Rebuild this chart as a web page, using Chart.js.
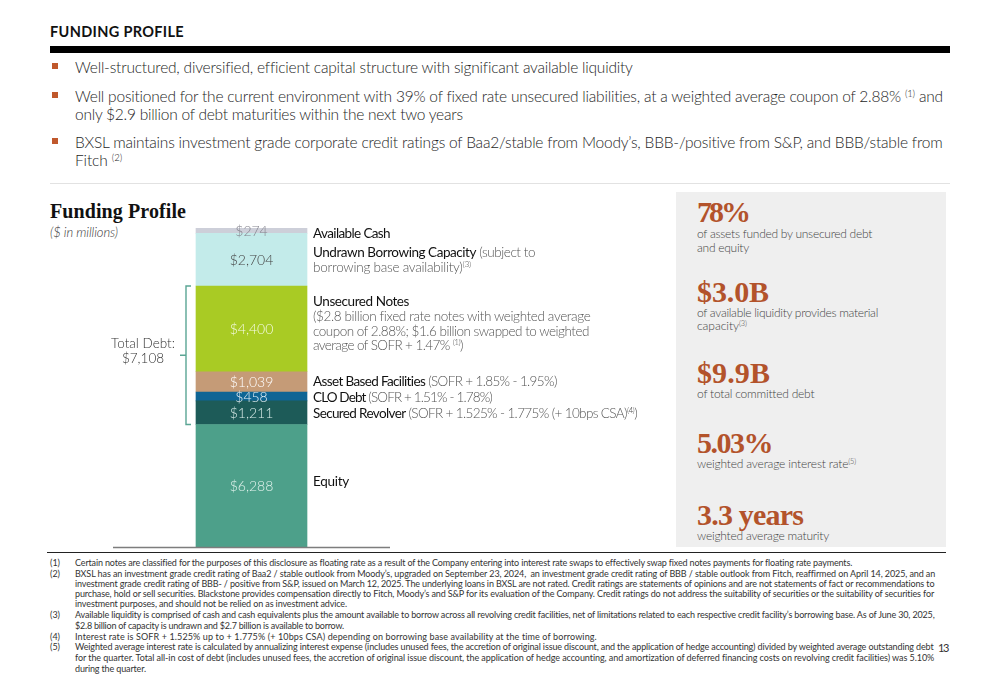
<!DOCTYPE html>
<html><head><meta charset="utf-8">
<script src="https://cdn.jsdelivr.net/npm/chart.js@4.4.1/dist/chart.umd.min.js"></script>
<style>
html,body{margin:0;padding:0;background:#fff}
body{width:1000px;height:685px;position:relative;overflow:hidden;font-family:Lato,"Open Sans",sans-serif;color:#333}
.t{position:absolute;white-space:nowrap;line-height:1}
.hdr{font-weight:700;font-size:14.5px;color:#111}
.bul{font-size:15.5px;color:#1e1e1e;font-weight:300}
.sq{position:absolute;width:6px;height:6px;background:#c0582c}
.ttl{font-family:"Liberation Serif",serif;font-weight:700;font-size:20px;color:#111}
.unit{font-style:italic;font-size:13px;color:#333;font-weight:300}
.side{font-size:13.5px;color:#555;font-weight:300}
.side b{font-weight:400;color:#111}
.big{font-family:"Liberation Serif",serif;font-weight:700;font-size:30px;color:#b3532b}
.sub{font-size:12px;color:#444;font-weight:300}
.fn{font-size:9px;color:#333}
.pg{font-size:11px;color:#333}
sup{font-size:0.62em;vertical-align:0.55em;line-height:0}
.rule{position:absolute}
</style>
</head>
<body>
<div class="t hdr" style="left:50px" data-b="36.7" data-w="184">FUNDING PROFILE</div>
<div class="rule" style="left:50px;top:45.5px;width:900px;height:7px;background:#000"></div>

<div class="sq" style="left:52px;top:63px"></div>
<div class="t bul" style="left:75px" data-b="72.5" data-w="631">Well-structured, diversified, efficient capital structure with significant available liquidity</div>
<div class="sq" style="left:52px;top:92px"></div>
<div class="t bul" style="left:75px" data-b="101.5" data-w="943">Well positioned for the current environment with 39% of fixed rate unsecured liabilities, at a weighted average coupon of 2.88% <sup>(1)</sup> and</div>
<div class="t bul" style="left:75px" data-b="119.5" data-w="463">only $2.9 billion of debt maturities within the next two years</div>
<div class="sq" style="left:52px;top:138px"></div>
<div class="t bul" style="left:75px" data-b="147.5" data-w="943">BXSL maintains investment grade corporate credit ratings of Baa2/stable from Moody’s, BBB-/positive from S&amp;P, and BBB/stable from</div>
<div class="t bul" style="left:75px" data-b="165.5" data-w="122">Fitch <sup>(2)</sup></div>
<div class="rule" style="left:50px;top:182.5px;width:900px;height:1px;background:#e2e2e2"></div>

<div class="t ttl" style="left:50px" data-b="218" data-w="186">Funding Profile</div>
<div class="t unit" style="left:50px" data-b="237" data-w="118">($ in millions)</div>

<div class="rule" style="left:676px;top:192px;width:270px;height:355px;background:#efefef"></div>

<div id="cw" style="position:absolute;left:50px;top:190px;width:610px;height:362px"><canvas id="c" width="610" height="362"></canvas></div>

<div class="t side" style="left:313px" data-b="238" data-w="390"><b>Available Cash</b></div>
<div class="t side" style="left:313px" data-b="257" data-w="535"><b>Undrawn Borrowing Capacity</b> (subject to</div>
<div class="t side" style="left:313px" data-b="271.5" data-w="471">borrowing base availability)<sup>(3)</sup></div>
<div class="t side" style="left:313px" data-b="306" data-w="409"><b>Unsecured Notes</b></div>
<div class="t side" style="left:313px" data-b="320.5" data-w="590">($2.8 billion fixed rate notes with weighted average</div>
<div class="t side" style="left:313px" data-b="335.5" data-w="589">coupon of 2.88%; $1.6 billion swapped to weighted</div>
<div class="t side" style="left:313px" data-b="350" data-w="463">average of SOFR + 1.47% <sup>(1)</sup>)</div>
<div class="t side" style="left:313px" data-b="386" data-w="557"><b>Asset Based Facilities</b> (SOFR + 1.85% - 1.95%)</div>
<div class="t side" style="left:313px" data-b="402" data-w="492"><b>CLO Debt</b> (SOFR + 1.51% - 1.78%)</div>
<div class="t side" style="left:313px" data-b="418" data-w="637"><b>Secured Revolver</b> (SOFR + 1.525% - 1.775% (+ 10bps CSA)<sup>(4)</sup>)</div>
<div class="t side" style="left:313px" data-b="486" data-w="349"><b>Equity</b></div>

<div class="t big" style="left:697px" data-b="222" data-w="748">78%</div>
<div class="t sub" style="left:697px" data-b="238" data-w="872">of assets funded by unsecured debt</div>
<div class="t sub" style="left:697px" data-b="251.5" data-w="749">and equity</div>
<div class="t big" style="left:697px" data-b="301.5" data-w="769">$3.0B</div>
<div class="t sub" style="left:697px" data-b="316.5" data-w="878">of available liquidity provides material</div>
<div class="t sub" style="left:697px" data-b="330" data-w="747">capacity<sup>(3)</sup></div>
<div class="t big" style="left:697px" data-b="383" data-w="770">$9.9B</div>
<div class="t sub" style="left:697px" data-b="398" data-w="814">of total committed debt</div>
<div class="t big" style="left:697px" data-b="453" data-w="772">5.03%</div>
<div class="t sub" style="left:697px" data-b="468" data-w="856">weighted average interest rate<sup>(5)</sup></div>
<div class="t big" style="left:697px" data-b="525" data-w="803">3.3 years</div>
<div class="t sub" style="left:697px" data-b="540" data-w="829">weighted average maturity</div>

<div class="rule" style="left:47px;top:551.5px;width:899px;height:1.2px;background:#222"></div>

<div class="t fn" style="left:50px" data-b="565.5">(1)</div>
<div class="t fn" style="left:75px" data-b="565.5" data-w="852">Certain notes are classified for the purposes of this disclosure as floating rate as a result of the Company entering into interest rate swaps to effectively swap fixed notes payments for floating rate payments.</div>
<div class="t fn" style="left:50px" data-b="576.5">(2)</div>
<div class="t fn" style="left:75px" data-b="576.5" data-w="935">BXSL has an investment grade credit rating of Baa2 / stable outlook from Moody’s, upgraded on September 23, 2024,&nbsp; an investment grade credit rating of BBB / stable outlook from Fitch, reaffirmed on April 14, 2025, and an</div>
<div class="t fn" style="left:75px" data-b="586.5" data-w="935">investment grade credit rating of BBB- / positive from S&amp;P, issued on March 12, 2025. The underlying loans in BXSL are not rated. Credit ratings are statements of opinions and are not statements of fact or recommendations to</div>
<div class="t fn" style="left:75px" data-b="596.5" data-w="935">purchase, hold or sell securities. Blackstone provides compensation directly to Fitch, Moody’s and S&amp;P for its evaluation of the Company. Credit ratings do not address the suitability of securities or the suitability of securities for</div>
<div class="t fn" style="left:75px" data-b="607" data-w="347">investment purposes, and should not be relied on as investment advice.</div>
<div class="t fn" style="left:50px" data-b="617.7">(3)</div>
<div class="t fn" style="left:75px" data-b="617.7" data-w="935">Available liquidity is comprised of cash and cash equivalents plus the amount available to borrow across all revolving credit facilities, net of limitations related to each respective credit facility’s borrowing base. As of June 30, 2025,</div>
<div class="t fn" style="left:75px" data-b="628.7" data-w="344">$2.8 billion of capacity is undrawn and $2.7 billion is available to borrow.</div>
<div class="t fn" style="left:50px" data-b="639.7">(4)</div>
<div class="t fn" style="left:75px" data-b="639.7" data-w="597">Interest rate is SOFR + 1.525% up to + 1.775% (+ 10bps CSA) depending on borrowing base availability at the time of borrowing.</div>
<div class="t fn" style="left:50px" data-b="650.3">(5)</div>
<div class="t fn" style="left:75px" data-b="650.3" data-w="934">Weighted average interest rate is calculated by annualizing interest expense (includes unused fees, the accretion of original issue discount, and the application of hedge accounting) divided by weighted average outstanding debt</div>
<div class="t fn" style="left:75px" data-b="661" data-w="935">for the quarter. Total all-in cost of debt (includes unused fees, the accretion of original issue discount, the application of hedge accounting, and amortization of deferred financing costs on revolving credit facilities) was 5.10%</div>
<div class="t fn" style="left:75px" data-b="671.7" data-w="146">during the quarter.</div>
<div class="t pg" style="left:938px" data-b="652" data-w="948">13</div>

<script>
// ---- data (bottom of stack to top) ----
const categories = ['Capital structure'];
const segmentNames = ['Equity', 'Secured Revolver', 'CLO Debt', 'Asset Based Facilities', 'Unsecured Notes', 'Undrawn Borrowing Capacity', 'Available Cash'];
const segmentValues = [6288, 1211, 458, 1039, 4400, 2704, 274];
const debtSegments = ['Secured Revolver', 'CLO Debt', 'Asset Based Facilities', 'Unsecured Notes'];
const totalDebtLabel = 'Total Debt:';
const totalDebtValue = 7108;

// ---- styles ----
const segColors = ['#4da08a', '#1d5b58', '#0f6595', '#c59b77', '#a9cb24', '#c3ebea', '#cdcfd9'];
const segLabelColors = ['#e2f3ed', '#d8ece8', '#e8f1f7', '#ffffff', '#f6fbe6', '#444444', '#85858f'];

const fmt = v => '$' + v.toLocaleString('en-US');
const stackMax = segmentValues.reduce((a, b) => a + b, 0);

const overlay = {
  id: 'overlay',
  afterDatasetsDraw(chart) {
    const ctx = chart.ctx, ca = chart.chartArea, ys = chart.scales.y;
    ctx.save();
    ctx.font = '300 14px Lato, sans-serif';
    ctx.textAlign = 'center';
    ctx.textBaseline = 'middle';
    let bar = null;
    chart.data.datasets.forEach((ds, i) => {
      const el = chart.getDatasetMeta(i).data[0];
      bar = el;
      const p = el.getProps(['x', 'y', 'base'], true);
      ctx.fillStyle = segLabelColors[i];
      ctx.fillText(fmt(ds.data[0]), p.x, (p.y + p.base) / 2 + 1);
    });
    // baseline
    ctx.strokeStyle = '#7d7d7d';
    ctx.lineWidth = 1.6;
    ctx.beginPath();
    ctx.moveTo(ca.left, ca.bottom + 0.5);
    ctx.lineTo(ca.right, ca.bottom + 0.5);
    ctx.stroke();
    // total debt bracket
    const idx = debtSegments.map(n => segmentNames.indexOf(n));
    const lo = Math.min(...idx), hi = Math.max(...idx);
    let below = 0; for (let k = 0; k < lo; k++) below += segmentValues[k];
    let upto = 0; for (let k = 0; k <= hi; k++) upto += segmentValues[k];
    const yTop = ys.getPixelForValue(upto), yBot = ys.getPixelForValue(below);
    const bw = bar.getProps(['width'], true).width;
    const x0 = bar.x - bw / 2 - 10;
    const mid = (yTop + yBot) / 2;
    ctx.strokeStyle = '#5aa594';
    ctx.lineWidth = 1.4;
    ctx.beginPath();
    ctx.moveTo(x0 + 5, yTop); ctx.lineTo(x0, yTop); ctx.lineTo(x0, yBot); ctx.lineTo(x0 + 5, yBot);
    ctx.moveTo(x0, mid); ctx.lineTo(x0 - 6, mid);
    ctx.stroke();
    ctx.fillStyle = '#333';
    ctx.font = '300 13.5px Lato, sans-serif';
    ctx.textBaseline = 'alphabetic';
    ctx.fillText(totalDebtLabel, x0 - 43, mid - 7);
    ctx.fillText(fmt(totalDebtValue), x0 - 43, mid + 7.5);
    ctx.restore();
  }
};

new Chart(document.getElementById('c'), {
  type: 'bar',
  data: {
    labels: categories,
    datasets: segmentNames.map((n, i) => ({
      label: n,
      data: [segmentValues[i]],
      backgroundColor: segColors[i],
      borderWidth: 0,
      barThickness: 111
    }))
  },
  options: {
    responsive: false,
    animation: false,
    layout: { padding: { left: 63, right: 270, top: 38, bottom: 5 } },
    plugins: { legend: { display: false }, tooltip: { enabled: false } },
    scales: {
      x: { display: false, stacked: true },
      y: { display: false, stacked: true, min: 0, max: stackMax }
    }
  },
  plugins: [overlay]
});

// ---- place text lines on their baselines and fit widths ----
document.querySelectorAll('[data-b]').forEach(el => {
  el.style.top = '0px';
  if (el.dataset.w) {
    const target = parseFloat(el.dataset.w) - parseFloat(el.style.left);
    const w = el.getBoundingClientRect().width;
    const n = el.textContent.length;
    const cs = getComputedStyle(el).letterSpacing;
    const cur = cs === 'normal' ? 0 : parseFloat(cs);
    el.style.letterSpacing = (cur + (target - w) / n) + 'px';
  }
  const m = document.createElement('span');
  m.style.cssText = 'display:inline-block;width:0;height:0;vertical-align:baseline';
  el.appendChild(m);
  const off = m.getBoundingClientRect().bottom - el.getBoundingClientRect().top;
  el.style.top = (parseFloat(el.dataset.b) - off) + 'px';
});
</script>
</body></html>
